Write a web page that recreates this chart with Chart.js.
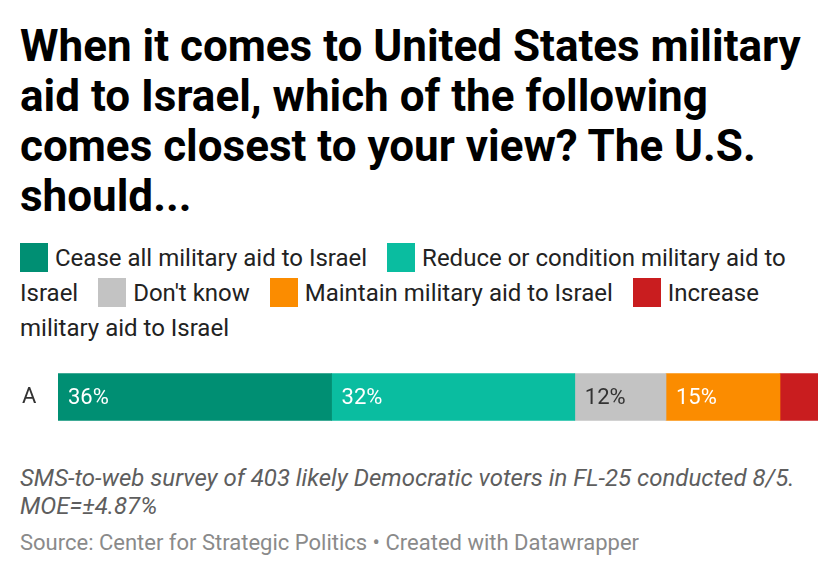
<!DOCTYPE html>
<html>
<head>
<meta charset="utf-8">
<script src="https://cdn.jsdelivr.net/npm/chart.js@4"></script>
<style>
  body { margin: 0; background: #fff; font-family: Roboto, sans-serif; width: 840px; height: 576px; overflow: hidden; }
  h1 { margin: 0; position: absolute; left: 20px; top: 21px; width: 805px; font-size: 44px; line-height: 50px; font-weight: 700; color: #000; }
  #legend { position: absolute; left: 20px; top: 241px; width: 800px; font-size: 24px; line-height: 35px; color: #222; }
  .sw { display: inline-block; width: 28px; height: 29px; vertical-align: -6px; margin-right: 7px; }
  .first { white-space: nowrap; }
  .gap { margin-right: 14px; }
  #wrap { position: absolute; left: 0; top: 357px; width: 840px; height: 80px; }
  #notes { position: absolute; left: 20px; top: 464px; width: 800px; font-size: 24px; line-height: 28px; color: #5e5e5e; font-style: italic; }
  #source { position: absolute; left: 20px; top: 529px; font-size: 22px; line-height: 28px; color: #8a8a8a; }
</style>
</head>
<body>
<h1>When it comes to United States military aid to Israel, which of the following comes closest to your view? The U.S. should...</h1>
<div id="legend"></div>
<div id="wrap"><canvas id="grafico"></canvas></div>
<div id="notes">SMS-to-web survey of 403 likely Democratic voters in FL-25 conducted 8/5. MOE=±4.87%</div>
<div id="source">Source: Center for Strategic Politics • Created with Datawrapper</div>
<script>
// Datos
const categorias = ['A'];
const respuestas = [
  'Cease all military aid to Israel',
  'Reduce or condition military aid to Israel',
  "Don't know",
  'Maintain military aid to Israel',
  'Increase military aid to Israel'
];
const valores = [36, 32, 12, 15, 5];

const colores = ['#008f73', '#0abda0', '#c3c3c3', '#fb8c00', '#c91d1f'];
const coloresTexto = ['#fff', '#fff', '#333', '#fff', '#fff'];

// Leyenda en HTML, generada desde los arrays (una palabra por span para que corte bien)
const legend = document.getElementById('legend');
respuestas.forEach((r, i) => {
  const palabras = r.split(' ');
  palabras.forEach((p, j) => {
    const s = document.createElement('span');
    if (j === 0) {
      s.className = 'first';
      s.innerHTML = '<span class="sw" style="background:' + colores[i] + '"></span>';
      s.appendChild(document.createTextNode(p));
    } else {
      s.textContent = p;
    }
    if (j === palabras.length - 1 && i < respuestas.length - 1) s.classList.add('gap');
    legend.appendChild(s);
    legend.appendChild(document.createTextNode(' '));
  });
});

// Etiquetas de porcentaje dentro de cada segmento
const etiquetas = {
  id: 'etiquetas',
  afterDatasetsDraw(chart) {
    const ctx = chart.ctx;
    ctx.save();
    ctx.font = '22px Roboto';
    ctx.textBaseline = 'middle';
    ctx.textAlign = 'left';
    chart.data.datasets.forEach((ds, i) => {
      const bar = chart.getDatasetMeta(i).data[0];
      const v = ds.data[0];
      const ancho = bar.x - bar.base;
      const txt = v + '%';
      if (ctx.measureText(txt).width + 16 > ancho) return;
      ctx.fillStyle = coloresTexto[i];
      ctx.fillText(txt, bar.base + 10, bar.y + 1);
    });
    ctx.restore();
  }
};

const config = {
  type: 'bar',
  data: {
    labels: categorias,
    datasets: respuestas.map((r, i) => ({
      label: r,
      data: [valores[i]],
      backgroundColor: colores[i],
      borderWidth: 0,
      barThickness: 54
    }))
  },
  options: {
    indexAxis: 'y',
    responsive: true,
    maintainAspectRatio: false,
    animation: false,
    layout: { padding: { left: 22, right: 22, top: 0, bottom: 0 } },
    plugins: { legend: { display: false }, tooltip: { enabled: false } },
    scales: {
      x: { stacked: true, min: 0, max: 100, display: false },
      y: {
        stacked: true,
        grid: { display: false },
        border: { display: false },
        ticks: { crossAlign: 'far', color: '#333', font: { family: 'Roboto', size: 22 } },
        afterFit: (s) => { s.width = 36; }
      }
    }
  },
  plugins: [etiquetas]
};

new Chart(document.getElementById('grafico').getContext('2d'), config);
</script>
</body>
</html>
